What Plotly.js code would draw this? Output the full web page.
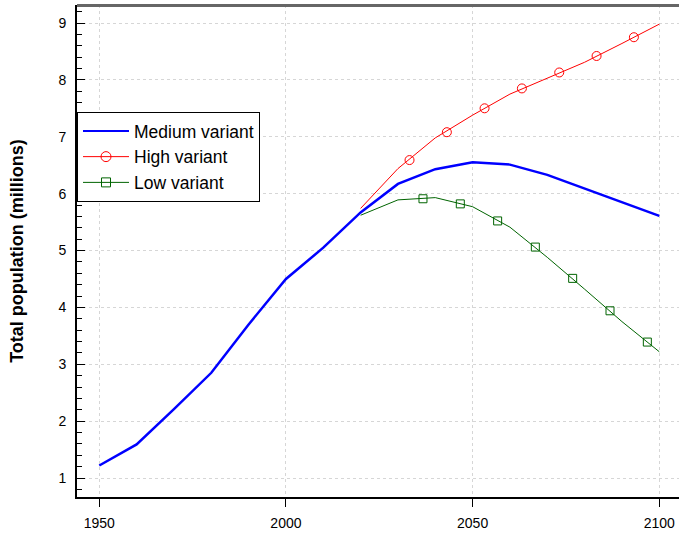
<!DOCTYPE html>
<html>
<head>
<meta charset="utf-8">
<script src="https://cdn.plot.ly/plotly-3.0.1.min.js"></script>
<style>html,body{margin:0;padding:0;background:#fff;}#chart{width:679px;height:535px;}</style>
</head>
<body>
<div id="chart"></div>
<script>
// Data
const years = [1950,1960,1970,1980,1990,2000,2010,2020,2030,2040,2050,2060,2070,2080,2090,2100];
const medium = [1.22,1.59,2.21,2.85,3.70,4.50,5.05,5.67,6.17,6.43,6.55,6.51,6.33,6.09,5.85,5.61];
const projYears = [2020,2030,2040,2050,2060,2070,2080,2090,2100];
const high = [5.74,6.44,6.98,7.38,7.75,8.03,8.31,8.64,8.98];
const low = [5.62,5.89,5.93,5.77,5.41,4.88,4.32,3.75,3.22];
const highMarkX = [2033.1,2043.1,2053.2,2063.2,2073.2,2083.2,2093.2];
const highMarkY = [6.59,7.08,7.50,7.85,8.13,8.42,8.75];
const lowMarkX = [2036.7,2046.7,2056.7,2066.8,2076.8,2086.8,2096.8];
const lowMarkY = [5.91,5.82,5.52,5.06,4.51,3.94,3.39];
const seriesNames = ["Medium variant","High variant","Low variant"];
const xTicks = [1950,2000,2050,2100];
const yTicks = [1,2,3,4,5,6,7,8,9];

const FONT = "Liberation Sans, Arial, Helvetica, sans-serif";
const BLUE = "#0000ff", RED = "#ff0000", GREEN = "#006400";

const traces = [
  {x: years, y: medium, mode: "lines", line: {color: BLUE, width: 2.5}, showlegend: false},
  {x: projYears, y: high, mode: "lines", line: {color: RED, width: 1}, showlegend: false},
  {x: highMarkX, y: highMarkY, mode: "markers", marker: {symbol: "circle-open", size: 9, color: RED, line: {width: 1, color: RED}}, showlegend: false},
  {x: projYears, y: low, mode: "lines", line: {color: GREEN, width: 1}, showlegend: false},
  {x: lowMarkX, y: lowMarkY, mode: "markers", marker: {symbol: "square-open", size: 8, color: GREEN, line: {width: 1, color: GREEN}}, showlegend: false},
  // legend entries
  {x: [null], y: [null], name: seriesNames[0], mode: "lines", line: {color: BLUE, width: 2}},
  {x: [null], y: [null], name: seriesNames[1], mode: "lines+markers", line: {color: RED, width: 1}, marker: {symbol: "circle-open", size: 10, color: RED, line: {width: 1, color: RED}}},
  {x: [null], y: [null], name: seriesNames[2], mode: "lines+markers", line: {color: GREEN, width: 1}, marker: {symbol: "square-open", size: 9, color: GREEN, line: {width: 1, color: GREEN}}}
];

const layout = {
  width: 679, height: 535,
  margin: {l: 77, r: 0, t: 5, b: 38, pad: 0},
  paper_bgcolor: "#fff", plot_bgcolor: "#fff",
  font: {family: FONT, color: "#000", size: 14},
  showlegend: true,
  legend: {
    x: 0, y: 0.7825, xanchor: "left", yanchor: "top",
    bgcolor: "#fff", bordercolor: "#000", borderwidth: 1,
    font: {family: FONT, size: 17.5, color: "#000"},
    itemwidth: 46, tracegroupgap: 0
  },
  xaxis: {
    range: [1944.03, 2105.28],
    tickmode: "array", tickvals: xTicks, ticktext: xTicks.map(String),
    ticks: "outside", ticklen: 8, tickwidth: 1, tickcolor: "#000",
    showline: true, linecolor: "#000", linewidth: 2,
    showgrid: true, gridcolor: "#d6d6d6", griddash: "dot", gridwidth: 1,
    zeroline: false,
    tickfont: {family: FONT, size: 14, color: "#000"},
    ticklabelstandoff: 4
  },
  yaxis: {
    range: [0.666, 9.3165],
    tickmode: "array", tickvals: yTicks, ticktext: yTicks.map(String),
    ticks: "inside", ticklen: 8, tickwidth: 1, tickcolor: "#000",
    minor: {dtick: 0.2, tick0: 0, ticks: "inside", ticklen: 5, tickwidth: 1, tickcolor: "#000", showgrid: false},
    showline: true, linecolor: "#000", linewidth: 2,
    showgrid: true, gridcolor: "#d6d6d6", griddash: "dot", gridwidth: 1,
    zeroline: false,
    tickfont: {family: FONT, size: 14, color: "#000"},
    ticklabelstandoff: 6,
    title: {text: "<b>Total population (millions)</b>", font: {family: FONT, size: 18, color: "#000"}, standoff: 30}
  },
  shapes: [
    {type: "rect", xref: "paper", yref: "paper", x0: 0, x1: 1, y0: 0.996, y1: 1.002,
     fillcolor: "#666", line: {width: 0}, layer: "above"}
  ]
};

Plotly.newPlot("chart", traces, layout, {displayModeBar: false, staticPlot: true});
</script>
</body>
</html>
